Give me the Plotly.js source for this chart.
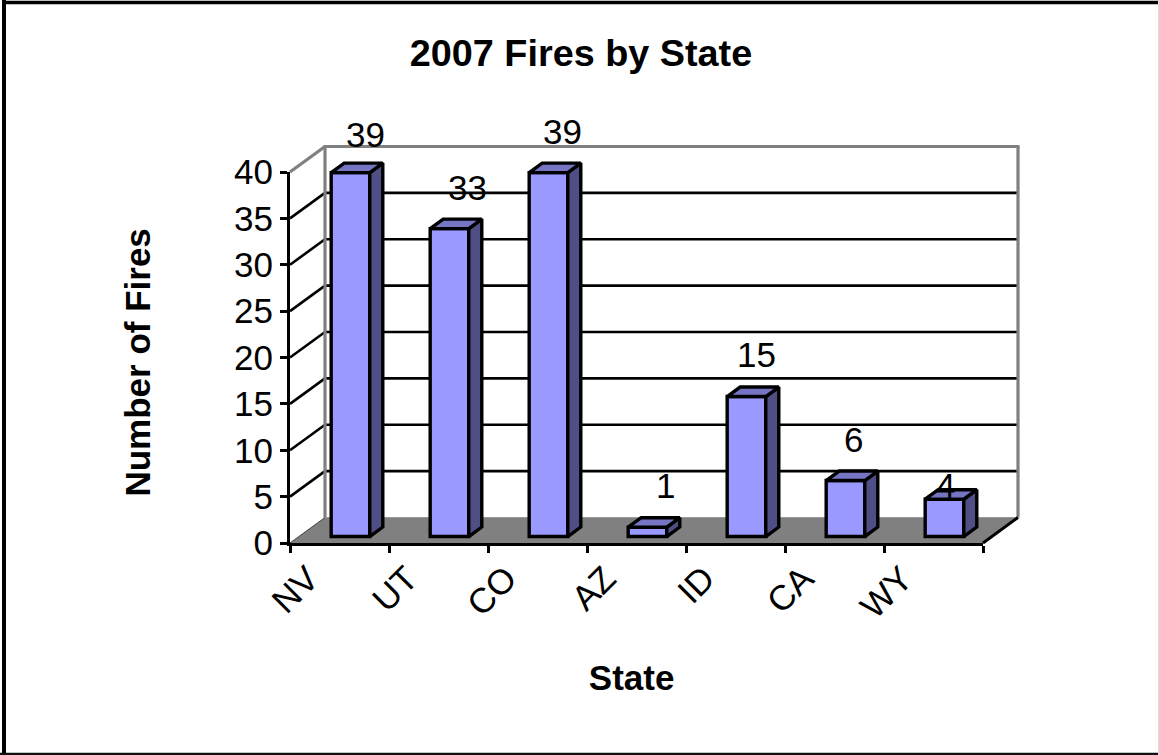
<!DOCTYPE html>
<html><head><meta charset="utf-8">
<script src="https://cdn.plot.ly/plotly-3.0.1.min.js"></script>
<style>html,body{margin:0;padding:0;background:#fff;overflow:hidden}</style>
</head><body><div id="chart" style="width:1159px;height:755px"></div>
<script>
const categories = ["NV","UT","CO","AZ","ID","CA","WY"];
const fires = [39,33,39,1,15,6,4];
const yTicks = [0,5,10,15,20,25,30,35,40];

const W=1159,H=755, X0=290,X1=983,Y0=543,Y1=172;
const pxX=(X1-X0)/7, pxY=(Y0-Y1)/40;
const font="Liberation Sans, Arial, sans-serif";
const centers=categories.map((c,i)=>i+0.5);

// 3-D look constants (axis units)
const wallDx=35/pxX, wallDy=25.5/pxY;
const barShift=0.111, barW=0.39, barBase=0.7, barK=1.006;
const depthX=13/pxX, depthY=9.5/pxY;
const barTop=v=>barBase+v*barK;
const bx=i=>centers[i]+barShift;

// axis units -> paper
const px=x=>(X0+x*pxX)/W, py=y=>(H-(Y0-y*pxY))/H;
const seg=(x0,y0,x1,y1,color,width)=>({type:'line',xref:'paper',yref:'paper',layer:'below',
  x0:px(x0),y0:py(y0),x1:px(x1),y1:py(y1),line:{color,width}});
const shapes=[];
// floor
const fp=[[0,0],[7,0],[7+wallDx,wallDy],[wallDx,wallDy]].map(p=>`${px(p[0])},${py(p[1])}`);
shapes.push({type:'path',xref:'paper',yref:'paper',layer:'below',
  path:'M'+fp.join('L')+'Z',fillcolor:'#808080',line:{width:0}});
// gridlines
yTicks.filter(v=>v>0&&v<40).forEach(v=>{
  shapes.push(seg(0,v,wallDx,v+wallDy,'#000',2.6));
  shapes.push(seg(wallDx,v+wallDy,7+wallDx,v+wallDy,'#000',2.6));
});
// walls
shapes.push(seg(0,40,wallDx,40+wallDy,'#808080',3.2));
shapes.push(seg(wallDx,wallDy,wallDx,40+wallDy,'#808080',3.2));
shapes.push(seg(wallDx-0.015,40+wallDy,7+wallDx+0.015,40+wallDy,'#808080',3.2));
shapes.push(seg(7+wallDx,wallDy,7+wallDx,40+wallDy,'#808080',3.2));
shapes.push(seg(0,0,wallDx,wallDy,'#404040',1));
shapes.push(seg(wallDx,wallDy,7+wallDx,wallDy,'#9a9a9a',1));
shapes.push(seg(7,0,7+wallDx,wallDy,'#000',3));
// page frame
const frame=(a,b,c,d,color,w)=>({type:'line',xref:'paper',yref:'paper',layer:'above',
  x0:a/W,y0:1-b/H,x1:c/W,y1:1-d/H,line:{color,width:w}});
shapes.push(frame(4,2.5,1159,2.5,'#000',3.5));
shapes.push(frame(4,0,4,755,'#000',4));
shapes.push(frame(0,754,1159,754,'#111',2.5));
shapes.push(frame(1158.5,0,1158.5,755,'#ddd',1));

// top & side faces
const tx=[],ty=[],sx=[],sy=[];
fires.forEach((v,i)=>{
  const l=bx(i)-barW/2,r=bx(i)+barW/2,t=barTop(v),b=barBase;
  tx.push(l,r,r+depthX,l+depthX,l,null); ty.push(t,t,t+depthY,t+depthY,t,null);
  sx.push(r,r+depthX,r+depthX,r,r,null); sy.push(b,b+depthY,t+depthY,t,b,null);
});
const faceLine={color:'#000',width:3.4,shape:'linear'};
const traces=[
 {type:'scatter',mode:'lines',x:centers,y:fires,line:{width:0,color:'rgba(0,0,0,0)'},hoverinfo:'skip'},
 {type:'bar',xaxis:'x2',yaxis:'y2',x:centers.map((c,i)=>bx(i)),y:fires.map(v=>v*barK),base:barBase,width:barW,
  marker:{color:'#9999ff',line:{color:'#000',width:3.4}},hoverinfo:'skip'},
 {type:'scatter',xaxis:'x2',yaxis:'y2',mode:'lines',x:sx,y:sy,fill:'toself',fillcolor:'#4f4f85',line:faceLine,hoverinfo:'skip'},
 {type:'scatter',xaxis:'x2',yaxis:'y2',mode:'lines',x:tx,y:ty,fill:'toself',fillcolor:'#7575c4',line:faceLine,hoverinfo:'skip'}
];
// data label nudges (px: right, up above bar top)
const nudgeX=[15,18,14,18,10,8,1], nudgeY=[38,41,41,42,42,41,14];
const annotations=fires.map((v,i)=>({x:bx(i),y:barTop(v),xref:'x2',yref:'y2',text:String(v),showarrow:false,
  xshift:nudgeX[i],yshift:nudgeY[i],font:{family:font,size:35,color:'#000'}}));

const x2Max=(1022-X0)/pxX, y2Max=(Y0-142)/pxY;
const layout={
 width:W,height:H,margin:{l:0,r:0,t:0,b:0},paper_bgcolor:'#fff',plot_bgcolor:'rgba(0,0,0,0)',showlegend:false,
 title:{text:'2007 Fires by State',x:581/W,xref:'paper',xanchor:'center',y:1-53/H,yref:'paper',yanchor:'middle',
   font:{family:font,size:37.8,color:'#000',weight:'bold'}},
 xaxis:{domain:[X0/W,X1/W],range:[0,7],tickmode:'array',tickvals:centers,ticktext:categories,tickangle:-45,
   ticks:'',showgrid:false,zeroline:false,showline:true,linecolor:'#000',linewidth:3,
   minor:{ticks:'outside',tickmode:'array',tickvals:[0,1,2,3,4,5,6,7],ticklen:7,tickwidth:3,tickcolor:'#000',showgrid:false},
   ticklabelshift:-31,ticklabelstandoff:-2,
   tickfont:{family:font,size:35,color:'#000'},
   title:{text:'State\u00a0\u200b',standoff:41,font:{family:font,size:35,color:'#000',weight:'bold'}}},
 yaxis:{domain:[(H-Y0)/H,(H-Y1)/H],range:[0,40],tickmode:'array',tickvals:yTicks,
   ticks:'outside',ticklen:7,tickwidth:3,tickcolor:'#000',showgrid:false,zeroline:false,showline:true,linecolor:'#000',linewidth:3,
   ticklabelstandoff:0,tickfont:{family:font,size:35,color:'#000'},
   title:{text:'Number of Fires\u00a0\u200b',standoff:73,font:{family:font,size:35,color:'#000',weight:'bold'}}},
 xaxis2:{domain:[X0/W,1022/W],range:[0,x2Max],anchor:'y2',visible:false,fixedrange:true},
 yaxis2:{domain:[(H-Y0)/H,(H-142)/H],range:[0,y2Max],anchor:'x2',visible:false,fixedrange:true},
 bargap:0,shapes,annotations
};
Plotly.newPlot('chart',traces,layout,{displayModeBar:false,staticPlot:true});
</script></body></html>
